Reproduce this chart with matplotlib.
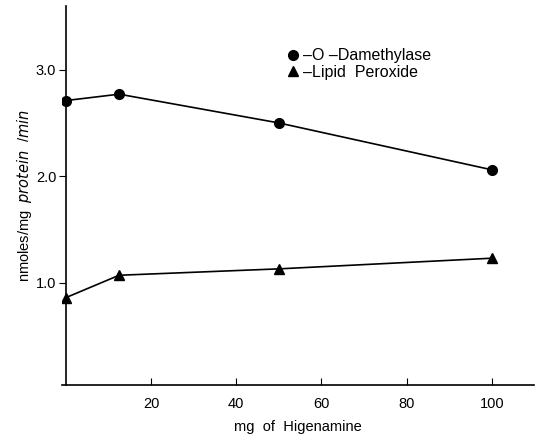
import matplotlib
matplotlib.use("Agg")
import matplotlib.pyplot as plt
from matplotlib.lines import Line2D

# values
dose = [0, 12.5, 50, 100]                      # mg of Higenamine
demethylase = [2.71, 2.77, 2.50, 2.06]         # O-Demethylase
lipid_perox = [0.86, 1.07, 1.13, 1.23]         # Lipid Peroxide
xticks = [20, 40, 60, 80, 100]
yticks = [1.0, 2.0, 3.0]
ytick_labels = ["1.0", "2.0", "3.0"]

plt.rcParams.update({"font.family": ["Liberation Sans", "DejaVu Sans"],
                     "font.size": 10.5})

fig = plt.figure(figsize=(5.36, 4.43), dpi=100)
ax = fig.add_axes([0.115, 0.131, 0.882, 0.856])

ax.plot(dose, demethylase, "-o", color="black", lw=1.2, ms=7)
ax.plot(dose, lipid_perox, "-^", color="black", lw=1.2, ms=7)

ax.set_xlim(-1, 110)
ax.set_ylim(0.04, 3.6)
ax.spines["left"].set_position(("data", 0))
ax.spines["top"].set_visible(False)
ax.spines["right"].set_visible(False)
for s in ("left", "bottom"):
    ax.spines[s].set_linewidth(1.2)

ax.set_xticks(xticks)
ax.set_yticks(yticks, ytick_labels)
ax.tick_params(axis="x", direction="in", length=5, pad=9)
ax.tick_params(axis="y", direction="out", length=5, pad=2)

ax.set_xlabel("mg  of  Higenamine", labelpad=6)
ax.set_ylabel("nmoles/mg  $\\it{protein}$  /$\\it{min}$", labelpad=1)

handles = [Line2D([], [], color="black", marker="o", ls="none", ms=7),
           Line2D([], [], color="black", marker="^", ls="none", ms=7)]
ax.legend(handles, ["\u2013O \u2013Damethylase", "\u2013Lipid  Peroxide"],
          loc="upper left", bbox_to_anchor=(0.46, 0.905), frameon=False,
          fontsize=11.5, handletextpad=0.1, handlelength=1.0,
          labelspacing=0.1, borderaxespad=0)

fig.savefig("out.png", dpi=100)
